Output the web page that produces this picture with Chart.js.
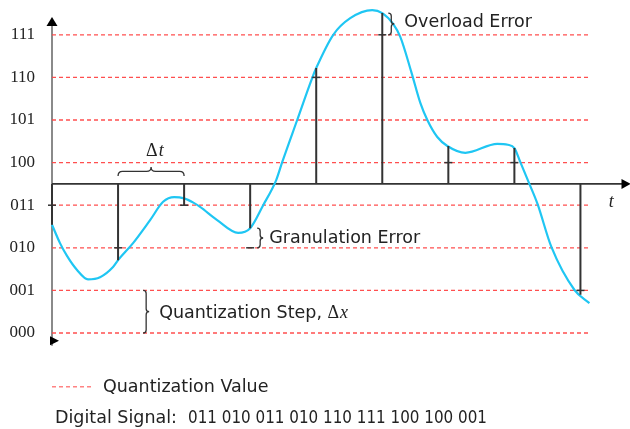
<!DOCTYPE html>
<html><head><meta charset="utf-8">
<script src="https://cdn.jsdelivr.net/npm/chart.js@4.4.0/dist/chart.umd.min.js"></script>
<style>html,body{margin:0;padding:0;background:#fff;overflow:hidden}</style>
</head><body>
<canvas id="c" width="630" height="429" style="display:block;width:630px;height:429px"></canvas>
<script>
// ---- data ----
const levels = [0, 1, 2, 3, 4, 5, 6, 7];
const tickLabels = ['000', '001', '010', '011', '100', '101', '110', '111'];
const curveT = [0, 0.121, 0.227, 0.379, 0.545, 0.727, 0.924, 1.0, 1.227, 1.485, 1.682, 1.85, 2.0, 2.14, 2.242, 2.5, 2.818, 3.0, 3.197, 3.394, 3.485, 3.712, 3.94, 4.0, 4.258, 4.515, 4.848, 5.0, 5.167, 5.273, 5.439, 5.576, 5.682, 5.833, 5.985, 6.258, 6.742, 6.9, 7.0, 7.09, 7.227, 7.35, 7.56, 7.91, 8.136];
const curveV = [2.54, 2.11, 1.81, 1.48, 1.26, 1.31, 1.55, 1.71, 2.11, 2.65, 3.08, 3.19, 3.16, 3.06, 2.96, 2.65, 2.35, 2.46, 3.0, 3.59, 4.01, 5.0, 5.99, 6.22, 7.0, 7.39, 7.58, 7.51, 7.25, 6.95, 6.13, 5.40, 5.0, 4.60, 4.39, 4.23, 4.44, 4.42, 4.34, 4.01, 3.5, 3.03, 2.02, 1.01, 0.70];
const sampleT = [0, 1, 2, 3, 4, 5, 6, 7, 8];
const sampleV = [2.54, 1.71, 3.0, 2.46, 6.22, 7.51, 4.39, 4.34, 0.9];
const quantV = [3, 2, 3, 2, 6, 7, 4, 4, 1];
const axisLevel = 3.5;
const quantEndT = 8.15;
const legendLabel = 'Quantization Value';
const signalPrefix = 'Digital Signal:';
const signalCodes = quantV.map(v => tickLabels[v]).join(' ');

// ---- derived datasets ----
const curveData = curveT.map((t, i) => ({x: t, y: curveV[i]}));
const stemData = [];
sampleT.forEach((t, i) => { stemData.push({x: t, y: axisLevel}, {x: t, y: sampleV[i]}, {x: t, y: null}); });
const quantData = sampleT.map((t, i) => ({x: t, y: quantV[i]}));
const gridData = [];
levels.forEach(l => { gridData.push({x: 0, y: l}, {x: quantEndT, y: l}, {x: quantEndT, y: null}); });

const RED = 'rgba(255,70,70,0.95)';
const INK = '#333';
const SANS = '"DejaVu Sans"';
const SERIF = '"Liberation Serif"';
const ARROW_END_T = 8.758;

function vBrace(ctx, x, y1, y2, w) {
  const ym = (y1 + y2) / 2, k = w / 2;
  ctx.beginPath();
  ctx.moveTo(x, y1);
  ctx.quadraticCurveTo(x + k, y1, x + k, y1 + k);
  ctx.lineTo(x + k, ym - k);
  ctx.quadraticCurveTo(x + k, ym, x + w, ym);
  ctx.quadraticCurveTo(x + k, ym, x + k, ym + k);
  ctx.lineTo(x + k, y2 - k);
  ctx.quadraticCurveTo(x + k, y2, x, y2);
  ctx.stroke();
}
function hBrace(ctx, x1, x2, y, h) {
  const xm = (x1 + x2) / 2, k = h / 2;
  ctx.beginPath();
  ctx.moveTo(x1, y);
  ctx.quadraticCurveTo(x1, y - k, x1 + k, y - k);
  ctx.lineTo(xm - k, y - k);
  ctx.quadraticCurveTo(xm, y - k, xm, y - h);
  ctx.quadraticCurveTo(xm, y - k, xm + k, y - k);
  ctx.lineTo(x2 - k, y - k);
  ctx.quadraticCurveTo(x2, y - k, x2, y);
  ctx.stroke();
}

const annot = {
  id: 'annot',
  beforeDatasetsDraw(chart) {
    const {ctx, scales: {x, y}} = chart;
    const ax = x.getPixelForValue(0), ay = y.getPixelForValue(axisLevel);
    ctx.save();
    ctx.strokeStyle = '#8a8a8a'; ctx.lineWidth = 2;
    ctx.beginPath(); ctx.moveTo(ax, y.getPixelForValue(7.42) + 6); ctx.lineTo(ax, y.getPixelForValue(-0.3)); ctx.stroke();
    ctx.strokeStyle = INK; ctx.lineWidth = 1.6;
    ctx.beginPath(); ctx.moveTo(ax, ay); ctx.lineTo(x.getPixelForValue(ARROW_END_T) - 6, ay); ctx.stroke();
    ctx.restore();
  },
  afterDatasetsDraw(chart) {
    const {ctx, scales: {x, y}, chartArea} = chart;
    const ax = x.getPixelForValue(0), ay = y.getPixelForValue(axisLevel);
    ctx.save();
    ctx.fillStyle = '#000';
    // top arrow
    const tipY = y.getPixelForValue(7.42);
    ctx.beginPath(); ctx.moveTo(ax, tipY); ctx.lineTo(ax - 5.5, tipY + 9); ctx.lineTo(ax + 5.5, tipY + 9); ctx.closePath(); ctx.fill();
    // bottom arrow (pointing right)
    const by = y.getPixelForValue(-0.3) - 5;
    ctx.beginPath(); ctx.moveTo(ax - 2, by - 4.5); ctx.lineTo(ax + 7, by); ctx.lineTo(ax - 2, by + 4.5); ctx.closePath(); ctx.fill();
    // right arrow
    const rx = x.getPixelForValue(ARROW_END_T);
    ctx.beginPath(); ctx.moveTo(rx, ay); ctx.lineTo(rx - 9, ay - 5); ctx.lineTo(rx - 9, ay + 5); ctx.closePath(); ctx.fill();

    // braces
    ctx.strokeStyle = INK; ctx.lineWidth = 1.3;
    hBrace(ctx, x.getPixelForValue(1), x.getPixelForValue(2), ay - 8, 9);
    vBrace(ctx, x.getPixelForValue(5) + 6, y.getPixelForValue(sampleV[5]), y.getPixelForValue(7), 6);
    vBrace(ctx, x.getPixelForValue(3) + 7, y.getPixelForValue(sampleV[3]), y.getPixelForValue(2), 6);
    vBrace(ctx, x.getPixelForValue(1.38), y.getPixelForValue(1), y.getPixelForValue(0), 6);

    // texts
    ctx.fillStyle = '#222'; ctx.textBaseline = 'alphabetic'; ctx.textAlign = 'left';
    ctx.font = '17.5px ' + SANS;
    ctx.fillText('Overload Error', x.getPixelForValue(5) + 22, y.getPixelForValue(7) - 8);
    ctx.fillText('Granulation Error', x.getPixelForValue(3) + 19, y.getPixelForValue(2) - 5);
    const qx = x.getPixelForValue(1.38) + 16, qy = (y.getPixelForValue(0) + y.getPixelForValue(1)) / 2 + 6;
    const qs = 'Quantization Step, ';
    ctx.fillText(qs, qx, qy);
    let w = ctx.measureText(qs).width;
    ctx.font = '18px ' + SERIF; ctx.fillText('Δ', qx + w, qy);
    w += ctx.measureText('Δ').width;
    ctx.font = 'italic 18px ' + SERIF; ctx.fillText('x', qx + w + 1, qy);
    // delta t
    const dtx = (x.getPixelForValue(1) + x.getPixelForValue(2)) / 2 - 5, dty = ay - 28;
    ctx.font = '18px ' + SERIF; ctx.fillText('Δ', dtx, dty);
    const dw = ctx.measureText('Δ').width;
    ctx.font = 'italic 18px ' + SERIF; ctx.fillText('t', dtx + dw + 1, dty);
    // t axis label
    ctx.fillText('t', x.getPixelForValue(8.43), ay + 23);

    // legend row
    const ly = chartArea.bottom + 41;
    ctx.strokeStyle = 'rgba(255,90,90,0.75)'; ctx.lineWidth = 1.5; ctx.setLineDash([4, 3]);
    ctx.beginPath(); ctx.moveTo(ax, ly); ctx.lineTo(ax + 39, ly); ctx.stroke();
    ctx.setLineDash([]);
    ctx.font = '17.5px ' + SANS; ctx.fillStyle = '#222';
    ctx.fillText(legendLabel, ax + 51, ly + 5);
    const sy = chartArea.bottom + 77;
    ctx.fillText(signalPrefix, ax + 3, sy);
    ctx.fillText(signalCodes, ax + 136, sy, 299);
    ctx.restore();
  }
};

new Chart(document.getElementById('c'), {
  type: 'line',
  data: {
    datasets: [
      {data: quantData, showLine: false, pointStyle: 'line', pointRadius: 4, pointBorderWidth: 1.5, pointBorderColor: INK, borderColor: INK, clip: false},
      {data: stemData, borderColor: INK, borderWidth: 2, pointRadius: 0, spanGaps: false, clip: false},
      {data: curveData, borderColor: '#1fc6f3', borderWidth: 2.2, pointRadius: 0, cubicInterpolationMode: 'monotone', clip: false},
      {data: gridData, borderColor: RED, borderWidth: 1.3, borderDash: [4, 3], pointRadius: 0, spanGaps: false, clip: false}
    ]
  },
  options: {
    responsive: false, animation: false, devicePixelRatio: 1,
    layout: {padding: {left: 0, right: 0, top: 25, bottom: 83.2}},
    plugins: {legend: {display: false}, tooltip: {enabled: false}},
    scales: {
      x: {type: 'linear', min: 0, max: 8.667, display: false},
      y: {
        type: 'linear', min: -0.3, max: 7.23,
        grid: {display: false, drawTicks: false}, border: {display: false},
        ticks: {autoSkip: false, padding: 17, color: '#222', font: {family: 'Liberation Serif', size: 17, lineHeight: 0.5},
          callback: (v) => tickLabels[levels.indexOf(v)]},
        afterBuildTicks: s => { s.ticks = levels.map(v => ({value: v})); },
        afterFit: s => { s.width = 52; }
      }
    }
  },
  plugins: [annot]
});
</script>
</body></html>
